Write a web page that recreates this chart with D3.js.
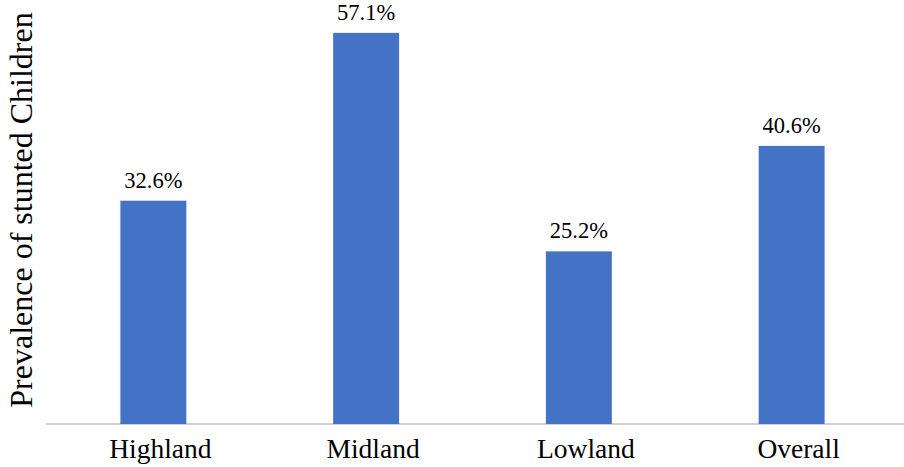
<!DOCTYPE html>
<head>
	<script src="https://d3js.org/d3.v7.min.js"></script>
	<style>
		body { margin: 0; background: #fff; }
	</style>
</head>
<body>
	<script type="text/javascript">
		var regions = ["Highland", "Midland", "Lowland", "Overall"];
		var prevalence = [32.6, 57.1, 25.2, 40.6];

		var font = "'Liberation Serif', 'Times New Roman', 'DejaVu Serif', serif";
		var w = 904, h = 467;
		var svg = d3.select("body").append("svg").attr("width", w).attr("height", h);

		var xScale = d3.scaleBand().domain(regions).range([47, 898]).padding(0);
		var yScale = d3.scaleLinear().domain([0, 60]).range([424, 13]);
		var barW = xScale.bandwidth() * 0.31;

		// baseline
		svg.append("line")
			.attr("x1", 46).attr("x2", w)
			.attr("y1", yScale(0)).attr("y2", yScale(0))
			.attr("stroke", "#c0c0c0").attr("stroke-width", 1.3);

		var data = regions.map(function(r, i){ return [r, prevalence[i]]; });

		svg.selectAll("rect.bar")
			.data(data)
			.enter()
			.append("rect")
			.attr("class", "bar")
			.attr("x", function(d){ return xScale(d[0]) + xScale.bandwidth()/2 - barW/2; })
			.attr("y", function(d){ return yScale(d[1]); })
			.attr("width", barW)
			.attr("height", function(d){ return yScale(0) - yScale(d[1]); })
			.attr("fill", "#4472c4");

		svg.selectAll("text.val")
			.data(data)
			.enter()
			.append("text")
			.attr("class", "val")
			.attr("x", function(d){ return xScale(d[0]) + xScale.bandwidth()/2; })
			.attr("y", function(d){ return yScale(d[1]) - 13; })
			.attr("text-anchor", "middle")
			.attr("font-family", font)
			.attr("font-size", 22.5)
			.text(function(d){ return d[1].toFixed(1) + "%"; });

		// category labels sit slightly right of the bar centres in the original
		svg.selectAll("text.cat")
			.data(regions)
			.enter()
			.append("text")
			.attr("class", "cat")
			.attr("x", function(d){ return xScale(d) + xScale.bandwidth()/2 + 7; })
			.attr("y", 458)
			.attr("text-anchor", "middle")
			.attr("font-family", font)
			.attr("font-size", 27.5)
			.text(function(d){ return d; });

		svg.append("text")
			.attr("transform", "translate(32,210) rotate(-90)")
			.attr("text-anchor", "middle")
			.attr("font-family", font)
			.attr("font-size", 32)
			.text("Prevalence of stunted Children");
	</script>
</body>
